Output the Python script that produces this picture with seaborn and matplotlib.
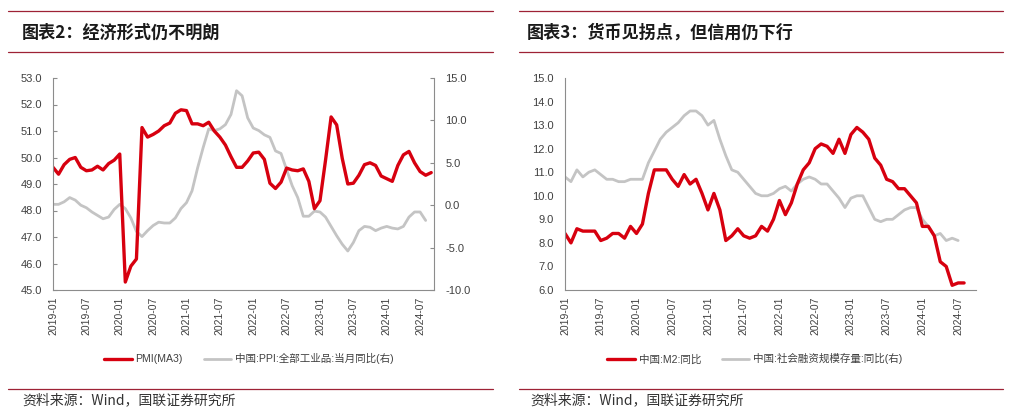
import numpy as np
import pandas as pd
import matplotlib
matplotlib.use("Agg")
import matplotlib.pyplot as plt
from matplotlib.lines import Line2D
import seaborn as sns

# ---- data (monthly, 2019-01 onwards) ----
pmi_ma3 = [49.63, 49.37, 49.73, 49.93, 50.00, 49.63, 49.50, 49.53, 49.67, 49.53, 49.77, 49.90,
           50.13, 45.30, 45.90, 46.17, 51.13, 50.77, 50.87, 51.00, 51.20, 51.30, 51.67, 51.80,
           51.77, 51.27, 51.27, 51.20, 51.33, 51.00, 50.77, 50.47, 50.03, 49.63, 49.63, 49.87,
           50.17, 50.20, 49.93, 49.03, 48.83, 49.07, 49.60, 49.53, 49.50, 49.57, 49.10, 48.07,
           48.37, 49.90, 51.53, 51.23, 49.97, 49.00, 49.03, 49.33, 49.73, 49.80, 49.70, 49.30,
           49.20, 49.10, 49.70, 50.10, 50.23, 49.80, 49.47, 49.33, 49.43]
ppi_yoy = [0.1, 0.1, 0.4, 0.9, 0.6, 0.0, -0.3, -0.8, -1.2, -1.6, -1.4, -0.5,
           0.1, -0.4, -1.5, -3.1, -3.7, -3.0, -2.4, -2.0, -2.1, -2.1, -1.5, -0.4,
           0.3, 1.7, 4.4, 6.8, 9.0, 8.8, 9.0, 9.5, 10.7, 13.5, 12.9, 10.3,
           9.1, 8.8, 8.3, 8.0, 6.4, 6.1, 4.2, 2.3, 0.9, -1.3, -1.3, -0.7,
           -0.8, -1.4, -2.5, -3.6, -4.6, -5.4, -4.4, -3.0, -2.5, -2.6, -3.0, -2.7,
           -2.5, -2.7, -2.8, -2.5, -1.4, -0.8, -0.8, -1.8]
m2_yoy = [8.4, 8.0, 8.6, 8.5, 8.5, 8.5, 8.1, 8.2, 8.4, 8.4, 8.2, 8.7,
          8.4, 8.8, 10.1, 11.1, 11.1, 11.1, 10.7, 10.4, 10.9, 10.5, 10.7, 10.1,
          9.4, 10.1, 9.4, 8.1, 8.3, 8.6, 8.3, 8.2, 8.3, 8.7, 8.5, 9.0,
          9.8, 9.2, 9.7, 10.5, 11.1, 11.4, 12.0, 12.2, 12.1, 11.8, 12.4, 11.8,
          12.6, 12.9, 12.7, 12.4, 11.6, 11.3, 10.7, 10.6, 10.3, 10.3, 10.0, 9.7,
          8.7, 8.7, 8.3, 7.2, 7.0, 6.2, 6.3, 6.3]
tsf_yoy = [10.8, 10.6, 11.1, 10.8, 11.0, 11.1, 10.9, 10.7, 10.7, 10.6, 10.6, 10.7,
           10.7, 10.7, 11.4, 11.9, 12.4, 12.7, 12.9, 13.1, 13.4, 13.6, 13.6, 13.4,
           13.0, 13.2, 12.4, 11.7, 11.1, 11.0, 10.7, 10.4, 10.1, 10.0, 10.0, 10.1,
           10.3, 10.4, 10.2, 10.5, 10.7, 10.8, 10.7, 10.5, 10.5, 10.2, 9.9, 9.5,
           9.9, 10.0, 10.0, 9.5, 9.0, 8.9, 9.0, 9.0, 9.2, 9.4, 9.5, 9.5,
           9.0, 8.7, 8.3, 8.4, 8.1, 8.2, 8.1]
tick_labels = ["2019-01", "2019-07", "2020-01", "2020-07", "2021-01", "2021-07",
               "2022-01", "2022-07", "2023-01", "2023-07", "2024-01", "2024-07"]

RED = "#D7000F"
GREY = "#C4C4C4"
SPINE = "#8C8C8C"
TXT = "#404040"
RULE = "#9E2235"

sns.set_style("white")
plt.rcParams["font.family"] = ["Liberation Sans", "Noto Sans CJK SC", "DejaVu Sans"]

fig = plt.figure(figsize=(10.24, 4.18), dpi=100)


def style_axis(ax, right=False):
    for s in ["top", "right", "left", "bottom"]:
        ax.spines[s].set_visible(False)
    ax.spines["bottom"].set_visible(True)
    ax.spines["bottom"].set_color(SPINE)
    side = "right" if right else "left"
    ax.spines[side].set_visible(True)
    ax.spines[side].set_color(SPINE)
    ax.tick_params(axis="y", direction="in", length=3, color=SPINE, labelsize=8,
                   labelcolor=TXT, pad=8)
    ax.tick_params(axis="x", direction="out", length=3, color=SPINE, labelsize=7.5,
                   labelcolor=TXT, pad=2)


def set_xaxis(ax, xmax):
    ax.set_xlim(0, xmax)
    ax.set_xticks(np.arange(0, 67, 6))
    ax.set_xticklabels(tick_labels, rotation=90)
    ax.set_xlabel("")


# -------- left chart --------
axL = fig.add_axes([53 / 1024, 1 - 290 / 418, 381 / 1024, 212 / 418])
axR = axL.twinx()
sns.lineplot(x=np.arange(len(ppi_yoy)), y=ppi_yoy, ax=axR, color=GREY, linewidth=2.0)
sns.lineplot(x=np.arange(len(pmi_ma3)), y=pmi_ma3, ax=axL, color=RED, linewidth=2.4)
axL.set_zorder(axR.get_zorder() + 1)
axL.patch.set_visible(False)
style_axis(axL)
style_axis(axR, right=True)
axR.spines["bottom"].set_visible(False)
axL.set_ylim(45, 53)
axL.set_yticks(np.arange(45, 53.1, 1))
axL.set_yticklabels([f"{v:.1f}" for v in np.arange(45, 53.1, 1)])
axR.set_ylim(-10, 15)
axR.set_yticks(np.arange(-10, 15.1, 5))
axR.set_yticklabels([f"{v:.1f}" for v in np.arange(-10, 15.1, 5)])
set_xaxis(axL, 68.5)
axL.set_ylabel("")
axR.set_ylabel("")

handles = [Line2D([], [], color=RED, linewidth=2.4), Line2D([], [], color=GREY, linewidth=2.0)]
axL.legend(handles, ["PMI(MA3)", "中国:PPI:全部工业品:当月同比(右)"], loc="center",
           bbox_to_anchor=(0.514, -0.325), ncol=2, frameon=False, fontsize=7.6,
           handlelength=2.6, handletextpad=0.35, columnspacing=2.0, labelcolor=TXT)

# -------- right chart --------
ax2 = fig.add_axes([565 / 1024, 1 - 290 / 418, 411 / 1024, 212 / 418])
sns.lineplot(x=np.arange(len(tsf_yoy)), y=tsf_yoy, ax=ax2, color=GREY, linewidth=2.0)
sns.lineplot(x=np.arange(len(m2_yoy)), y=m2_yoy, ax=ax2, color=RED, linewidth=2.4)
style_axis(ax2)
ax2.set_ylim(6, 15)
ax2.set_yticks(np.arange(6, 15.1, 1))
ax2.set_yticklabels([f"{v:.1f}" for v in np.arange(6, 15.1, 1)])
set_xaxis(ax2, 69)
ax2.set_ylabel("")
ax2.legend(handles, ["中国:M2:同比", "中国:社会融资规模存量:同比(右)"], loc="center",
           bbox_to_anchor=(0.462, -0.325), ncol=2, frameon=False, fontsize=7.6,
           handlelength=2.6, handletextpad=0.35, columnspacing=2.0, labelcolor=TXT)

# -------- frame text & rules --------
for x0, x1 in [(8, 493), (519, 1003)]:
    for yy in [11, 52, 389]:
        fig.add_artist(Line2D([x0 / 1024, x1 / 1024], [1 - yy / 418, 1 - yy / 418],
                              color=RULE, linewidth=0.9))

title_font = ["Noto Sans CJK SC", "DejaVu Sans"]
fig.text(22 / 1024, 1 - 33 / 418, "图表2：经济形式仍不明朗", fontsize=12.3, fontweight="bold",
         family=title_font, va="center", ha="left", color="#1A1A1A")
fig.text(527 / 1024, 1 - 33 / 418, "图表3：货币见拐点，但信用仍下行", fontsize=12.3, fontweight="bold",
         family=title_font, va="center", ha="left", color="#1A1A1A")
fig.text(22 / 1024, 1 - 400 / 418, "资料来源：Wind，国联证券研究所", fontsize=10,
         family=title_font, va="center", ha="left", color="#333333")
fig.text(530 / 1024, 1 - 400 / 418, "资料来源：Wind，国联证券研究所", fontsize=10,
         family=title_font, va="center", ha="left", color="#333333")

fig.savefig("out.png", dpi=100)
